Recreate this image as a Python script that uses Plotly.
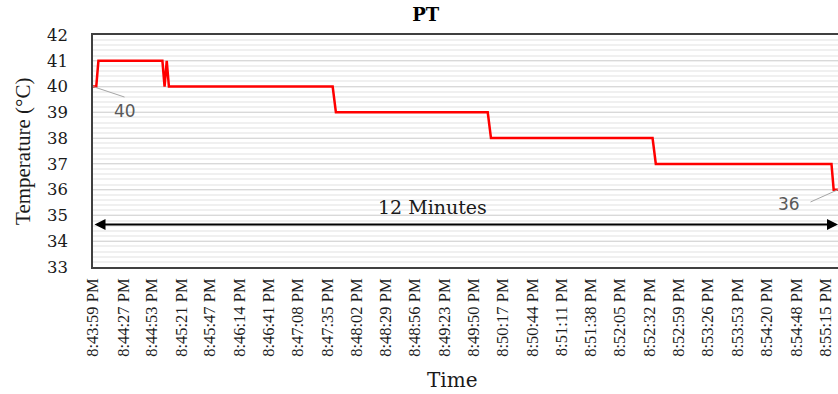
import pandas as pd
import plotly.graph_objects as go

# Category labels shown along the time axis
tick_labels = [
    "8:43:59 PM", "8:44:27 PM", "8:44:53 PM", "8:45:21 PM", "8:45:47 PM",
    "8:46:14 PM", "8:46:41 PM", "8:47:08 PM", "8:47:35 PM", "8:48:02 PM",
    "8:48:29 PM", "8:48:56 PM", "8:49:23 PM", "8:49:50 PM", "8:50:17 PM",
    "8:50:44 PM", "8:51:11 PM", "8:51:38 PM", "8:52:05 PM", "8:52:32 PM",
    "8:52:59 PM", "8:53:26 PM", "8:53:53 PM", "8:54:20 PM", "8:54:48 PM",
    "8:55:15 PM",
]

# PT temperature readings (°C) at the moments the reading changed
sample_times = [
    "8:43:59 PM", "8:44:02 PM", "8:44:04 PM", "8:45:03 PM", "8:45:05 PM",
    "8:45:07 PM", "8:45:09 PM", "8:47:40 PM", "8:47:43 PM", "8:50:03 PM",
    "8:50:06 PM", "8:52:35 PM", "8:52:38 PM", "8:55:20 PM", "8:55:22 PM",
    "8:55:26 PM",
]
temperatures = [40, 40, 41, 41, 40, 41, 40, 40, 39, 39, 38, 38, 37, 37, 36, 36]

y_ticks = [33, 34, 35, 36, 37, 38, 39, 40, 41, 42]
span_label = "12 Minutes"
span_level = 34.65

DAY = "2024-01-01 "
FMT = "%Y-%m-%d %I:%M:%S %p"


def to_dt(values):
    return pd.to_datetime([DAY + v for v in values], format=FMT)


x_samples = to_dt(sample_times)
x_ticks = to_dt(tick_labels)
x_start, x_end = x_samples[0], x_samples[-1]

SERIF = "Liberation Serif, Times New Roman, serif"
WIDE_SERIF = "DejaVu Serif, serif"
SANS = "DejaVu Sans, sans-serif"

fig = go.Figure()
fig.add_trace(go.Scatter(
    x=x_samples, y=temperatures, mode="lines",
    line=dict(color="#ff0000", width=2.5),
    hoverinfo="skip", showlegend=False,
))

annotations = [
    # duration arrow spanning the whole record
    dict(x=x_end, y=span_level, ax=x_start, ay=span_level,
         xref="x", yref="y", axref="x", ayref="y", text="",
         showarrow=True, arrowside="end+start", arrowhead=2,
         arrowsize=1.1, arrowwidth=2, arrowcolor="#000000"),
    dict(x=0.456, y=35.34, xref="paper", yref="y", text=span_label,
         xanchor="center", yanchor="middle", showarrow=False,
         font=dict(family=WIDE_SERIF, size=19, color="#1a1a1a")),
    # first reading label with leader line
    dict(x=x_samples[0], y=temperatures[0], xref="x", yref="y", text=" ",
         font=dict(size=1), showarrow=True, arrowhead=0, arrowwidth=1,
         arrowcolor="#a6a6a6", ax=33, ay=11, standoff=0, startstandoff=0),
    dict(x=x_samples[0], y=temperatures[0], xref="x", yref="y",
         text=str(temperatures[0]), showarrow=False, xshift=32, yshift=-24,
         font=dict(family=SANS, size=17, color="#595959")),
    # last reading label with leader line
    dict(x=x_samples[-1], y=temperatures[-1], xref="x", yref="y", text=" ",
         font=dict(size=1), showarrow=True, arrowhead=0, arrowwidth=1,
         arrowcolor="#a6a6a6", ax=-29, ay=13, standoff=0, startstandoff=0),
    dict(x=x_samples[-1], y=temperatures[-1], xref="x", yref="y",
         text=str(temperatures[-1]), showarrow=False, xshift=-49, yshift=-14,
         font=dict(family=SANS, size=17, color="#595959")),
    # axis titles
    dict(x=0.482, y=-0.487, xref="paper", yref="paper", text="Time",
         xanchor="center", yanchor="middle", showarrow=False,
         font=dict(family=WIDE_SERIF, size=20, color="#1a1a1a")),
    dict(x=-0.094, y=0.5, xref="paper", yref="paper", text="Temperature (°C)",
         xanchor="center", yanchor="middle", textangle=-90, showarrow=False,
         font=dict(family=SERIF, size=21, color="#1a1a1a")),
]

fig.update_layout(
    width=838, height=394,
    margin=dict(l=93, r=0, t=35, b=127),
    paper_bgcolor="#ffffff", plot_bgcolor="#ffffff",
    title=dict(text="<b>PT</b>", x=0.508, xanchor="center", y=0.962, yanchor="middle",
               font=dict(family=WIDE_SERIF, size=18, color="#000000")),
    annotations=annotations,
    xaxis=dict(
        type="date", range=[x_start, x_end],
        tickvals=x_ticks, ticktext=tick_labels, tickangle=-90,
        tickfont=dict(family=SERIF, size=16.5, color="#1a1a1a"),
        showgrid=False, zeroline=False,
        showline=True, linecolor="#404040", linewidth=1.6, mirror=True,
        ticks="", ticklabelstandoff=3,
    ),
    yaxis=dict(
        range=[y_ticks[0], y_ticks[-1]], tickvals=y_ticks,
        tickfont=dict(family=WIDE_SERIF, size=16.5, color="#1a1a1a"),
        showgrid=True, gridcolor="#d9d9d9", gridwidth=1,
        minor=dict(dtick=0.2, showgrid=True, gridcolor="#f0f0f0", gridwidth=1.5),
        zeroline=False, showline=True, linecolor="#404040", linewidth=1.6,
        mirror=False, ticks="", ticklabelstandoff=20,
    ),
)

fig.write_html("out.html")
